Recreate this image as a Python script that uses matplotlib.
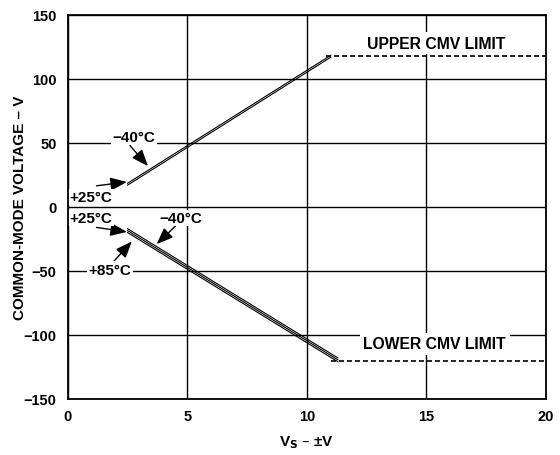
import matplotlib
matplotlib.use("Agg")
import matplotlib.pyplot as plt
import numpy as np

plt.rcParams['font.family'] = ['Liberation Sans', 'DejaVu Sans']
plt.rcParams['font.weight'] = 'bold'

# Supply voltage (±V)
vs_upper = [2.5, 11.0]
vs_lower = [2.5, 11.3]
# Upper CMV curves (V) for two temperatures
upper_m40 = [17.0, 117.0]
upper_p25 = [18.5, 118.5]
# Lower CMV curves (V) for three temperatures
lower_p25 = [-17.0, -118.0]
lower_m40 = [-18.5, -119.5]
lower_p85 = [-20.0, -121.0]
# CMV limits
limit_x_upper = [10.8, 20]
limit_upper = [118, 118]
limit_x_lower = [11.0, 20]
limit_lower = [-120, -120]

xticks = [0, 5, 10, 15, 20]
yticks = [-150, -100, -50, 0, 50, 100, 150]

fig = plt.figure(figsize=(5.6, 4.56), dpi=100)
ax = fig.add_axes([0.121, 0.123, 0.854, 0.842])
ax.set_xlim(0, 20)
ax.set_ylim(-150, 150)
ax.set_xticks(xticks)
ax.set_yticks(yticks)
ax.tick_params(length=0, labelsize=10.5)
ax.tick_params(axis='y', pad=8)
ax.tick_params(axis='x', pad=7)
for lab in ax.get_xticklabels() + ax.get_yticklabels():
    lab.set_fontweight('bold')
ax.grid(True, color='black', linewidth=1.0)
for s in ax.spines.values():
    s.set_linewidth(1.3)
    s.set_zorder(6)

lw = 0.8
for y in (upper_m40, upper_p25):
    ax.plot(vs_upper, y, color='black', linewidth=lw, zorder=3)
for y in (lower_p25, lower_m40, lower_p85):
    ax.plot(vs_lower, y, color='black', linewidth=lw, zorder=3)

ax.plot(limit_x_upper, limit_upper, color='black', linestyle=(0, (3, 1.8)), linewidth=1.2, zorder=3)
ax.plot(limit_x_lower, limit_lower, color='black', linestyle=(0, (3, 1.8)), linewidth=1.2, zorder=3)

bbox = dict(facecolor='white', edgecolor='none', pad=2.5)
ax.text(15.4, 128, 'UPPER CMV LIMIT', ha='center', va='center', fontsize=11.3,
        fontweight='bold', bbox=bbox, zorder=4)
ax.text(15.35, -107, 'LOWER CMV LIMIT', ha='center', va='center', fontsize=11.3,
        fontweight='bold', bbox=bbox, zorder=4)

arrow = dict(arrowstyle='-|>,head_length=1.0,head_width=0.4', color='black', lw=1.0,
             shrinkA=0, shrinkB=0)
tkw = dict(fontsize=11, fontweight='bold', ha='center', va='center',
           bbox=dict(facecolor='white', edgecolor='none', pad=1.0), zorder=4)
ax.annotate('', xy=(3.35, 32), xytext=(2.6, 48), arrowprops=arrow, zorder=4)
ax.text(2.76, 54.7, '−40°C', **tkw)
ax.annotate('', xy=(2.47, 19.5), xytext=(1.2, 16.5), arrowprops=arrow, zorder=4)
ax.text(0.98, 7.8, '+25°C', **tkw)
ax.annotate('', xy=(2.47, -19.5), xytext=(1.2, -16), arrowprops=arrow, zorder=4)
ax.text(0.98, -8.6, '+25°C', **tkw)
ax.annotate('', xy=(3.72, -29), xytext=(4.5, -15), arrowprops=arrow, zorder=4)
ax.text(4.73, -8.6, '−40°C', **tkw)
ax.annotate('', xy=(2.68, -27), xytext=(1.9, -43), arrowprops=arrow, zorder=4)
ax.text(1.76, -49, '+85°C', **tkw)

ax.set_xlabel('V$_\\mathbf{S}$ – ±V', fontsize=11, fontweight='bold', labelpad=8)
ax.set_ylabel('COMMON-MODE VOLTAGE – V', fontsize=11, fontweight='bold')
ax.yaxis.set_label_coords(-0.085, 0.5)

fig.savefig('out.png', dpi=100)
